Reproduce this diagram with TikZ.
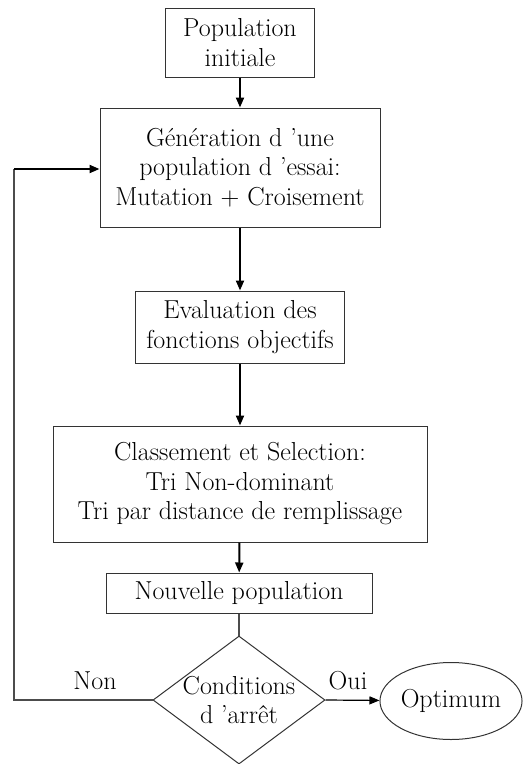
\documentclass[tikz,border=0pt]{standalone}
\usetikzlibrary{shapes.geometric,arrows.meta}
\begin{document}
\begin{tikzpicture}[
    x=1pt, y=-1pt,
    font=\fontsize{26}{29.5}\selectfont,
    box/.style={rectangle, draw=black!80, line width=1pt, align=center, inner sep=0pt},
    fleche/.style={-{Triangle[length=10pt,width=8pt]}, line width=2pt},
    trait/.style={draw=black!70, line width=1.2pt}
]
    \useasboundingbox (0,0) rectangle (524,764);

    \node[box, minimum width=149, minimum height=69] (pop) at (240,42.5) {Population\\initiale};
    \node[box, minimum width=280, minimum height=119] (gen) at (240,167.5) {G\'en\'eration d 'une\\population d 'essai:\\Mutation + Croisement};
    \node[box, minimum width=209, minimum height=72] (eval) at (240,327) {Evaluation des\\fonctions objectifs};
    \node[box, minimum width=374, minimum height=116] (cls) at (240,484) {Classement et Selection:\\Tri Non-dominant\\Tri par distance de remplissage};
    \node[box, minimum width=266, minimum height=40] (nouv) at (239,593) {Nouvelle population};
    \node[diamond, draw=black!80, line width=1pt, minimum width=172, minimum height=128, inner sep=0pt] (cond) at (239,700) {};
    \node[align=center] (condtxt) at (cond) {Conditions\\d 'arr\^et};
    \node[ellipse, draw=black!80, line width=1pt, minimum width=142, minimum height=77, inner sep=0pt] (opt) at (451,701) {Optimum};

    \coordinate (nonbas) at (14,700);
    \coordinate (nonhaut) at (14,169);

    \draw[fleche] (pop) -- (gen);
    \draw[fleche] (gen) -- (eval);
    \draw[fleche] (eval) -- (cls);
    \draw[fleche] (cls) -- (nouv);
    \draw[trait] (nouv) -- (cond);
    \draw[trait] (cond.west) -- (nonbas) -- (nonhaut);
    \draw[fleche] (nonhaut) -- (gen.west |- nonhaut);
    \draw[-{Triangle[length=10pt,width=8pt]}, line width=1.2pt] (cond.east) -- (opt);

    \node (non) at (95,681) {Non};
    \node (oui) at (348,681) {Oui};
\end{tikzpicture}
\end{document}
